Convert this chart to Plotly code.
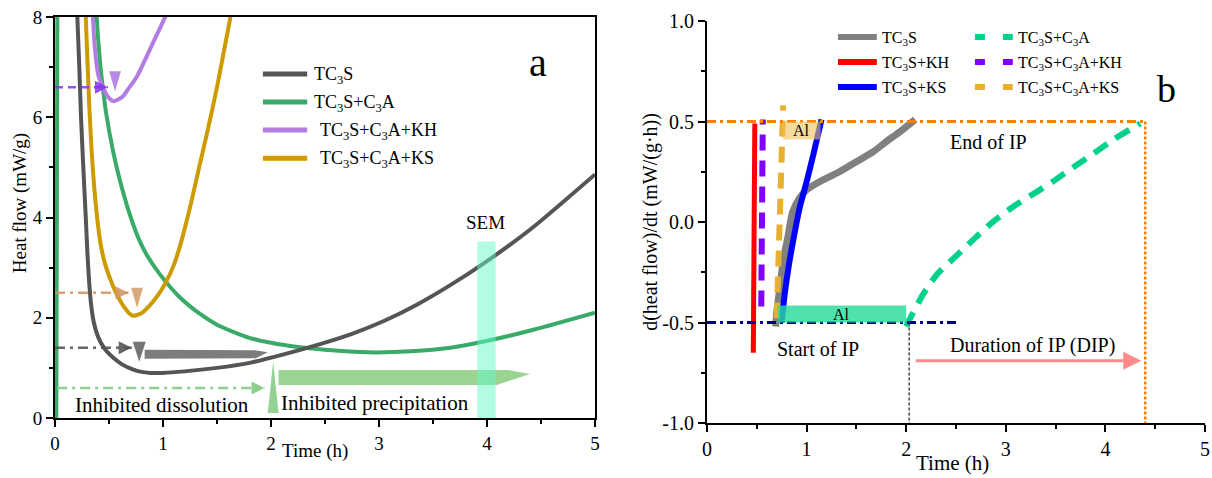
import plotly.graph_objects as go

FONT = "Liberation Serif"

# ---------------- panel a: heat flow (mW/g) vs time (h) ----------------
tc3s_t = [0.200, 0.207, 0.225, 0.241, 0.262, 0.285, 0.300, 0.315, 0.335, 0.360, 0.390,
          0.420, 0.470, 0.540, 0.620, 0.720, 0.800, 0.880, 1.00, 1.20, 1.50, 1.80, 2.10,
          2.43, 2.75, 3.04, 3.35, 3.66, 3.96, 4.40, 5.00]
tc3s_v = [8.6, 8.0, 7.0, 6.0, 5.0, 4.0, 3.3, 2.75, 2.25, 1.90, 1.67,
          1.52, 1.35, 1.20, 1.07, 0.97, 0.92, 0.90, 0.90, 0.93, 1.00, 1.10, 1.26,
          1.46, 1.68, 1.93, 2.26, 2.65, 3.07, 3.76, 4.86]

c3a_spike_t = [0.012, 0.022]
c3a_spike_v = [0.0, 8.5]
c3a_t = [0.375, 0.386, 0.417, 0.448, 0.472, 0.540, 0.600, 0.694, 0.770, 0.850, 0.970,
         1.15, 1.34, 1.50, 1.65, 1.80, 2.00, 2.27, 2.50, 2.90, 3.30, 3.66, 3.96,
         4.43, 5.00]
c3a_v = [8.6, 8.0, 7.1, 6.5, 6.1, 5.3, 4.75, 4.05, 3.60, 3.25, 2.87,
         2.42, 2.08, 1.86, 1.72, 1.60, 1.50, 1.41, 1.36, 1.31, 1.33, 1.40, 1.52,
         1.76, 2.10]

kh_t = [0.345, 0.352, 0.370, 0.400, 0.460, 0.500, 0.540, 0.580, 0.630, 0.690, 0.760,
        0.880, 0.950, 1.020, 1.030]
kh_v = [8.6, 8.0, 7.36, 6.85, 6.52, 6.38, 6.32, 6.35, 6.42, 6.60, 6.82,
        7.36, 7.68, 8.0, 8.05]

ks_t = [0.280, 0.285, 0.300, 0.318, 0.340, 0.365, 0.390, 0.420, 0.460, 0.510, 0.560,
        0.620, 0.670, 0.720, 0.800, 0.880, 0.960, 1.030, 1.100, 1.160, 1.250, 1.340,
        1.420, 1.500, 1.580, 1.620, 1.640]
ks_v = [8.3, 8.0, 7.15, 6.2, 5.3, 4.55, 4.0, 3.5, 3.1, 2.78, 2.52,
        2.28, 2.13, 2.04, 2.09, 2.25, 2.47, 2.72, 3.05, 3.45, 4.2, 5.05,
        5.8, 6.6, 7.5, 7.95, 8.2]

names_a = ["TC<sub>3</sub>S", "TC<sub>3</sub>S+C<sub>3</sub>A",
           "TC<sub>3</sub>S+C<sub>3</sub>A+KH", "TC<sub>3</sub>S+C<sub>3</sub>A+KS"]
colors_a = ["#555555", "rgb(58,170,104)", "rgb(178,124,226)", "rgb(205,154,0)"]

# ---------------- panel b: d(heat flow)/dt vs time (h) ----------------
b_tc3s_t = [0.69, 0.70, 0.73, 0.77, 0.81, 0.86, 0.93, 1.00, 1.13, 1.33, 1.50, 1.67, 1.80, 1.94, 2.09]
b_tc3s_v = [-0.52, -0.45, -0.33, -0.18, -0.08, 0.05, 0.12, 0.16, 0.20, 0.25, 0.30, 0.35, 0.40, 0.45, 0.51]
b_kh_t = [0.465, 0.470, 0.475, 0.480]
b_kh_v = [-0.65, -0.30, 0.10, 0.49]
b_ks_t = [0.75, 0.78, 0.82, 0.87, 0.93, 1.00, 1.07, 1.15]
b_ks_v = [-0.50, -0.36, -0.22, -0.08, 0.07, 0.20, 0.34, 0.51]
b_c3a_t = [2.00, 2.06, 2.17, 2.31, 2.50, 2.69, 2.87, 3.07, 3.31, 3.47, 3.67, 3.88, 4.08, 4.28, 4.35]
b_c3a_v = [-0.52, -0.46, -0.36, -0.26, -0.17, -0.08, 0.00, 0.075, 0.15, 0.20, 0.27, 0.34, 0.41, 0.47, 0.49]
b_c3a_kh_t = [0.545, 0.552, 0.560]
b_c3a_kh_v = [-0.42, 0.05, 0.51]
b_c3a_ks_t = [0.700, 0.730, 0.765]
b_c3a_ks_v = [-0.48, 0.05, 0.58]

names_b_solid = ["TC<sub>3</sub>S", "TC<sub>3</sub>S+KH", "TC<sub>3</sub>S+KS"]
names_b_dash = ["TC<sub>3</sub>S+C<sub>3</sub>A", "TC<sub>3</sub>S+C<sub>3</sub>A+KH",
                "TC<sub>3</sub>S+C<sub>3</sub>A+KS"]
colors_b_solid = ["#808080", "#ff0000", "#0000ff"]
colors_b_dash = ["rgb(0,210,140)", "rgb(130,0,255)", "rgb(232,176,48)"]

# key levels / times of panel b
ip_start, ip_end = -0.5, 0.5
t_start_c3a, t_end_c3a = 2.03, 4.40
dip_level = -0.69

fig = go.Figure()


def curve(t, v, color, width, xa="x", ya="y", dash=None, shape="spline"):
    fig.add_trace(go.Scatter(
        x=t, y=v, mode="lines", xaxis=xa, yaxis=ya, showlegend=False, hoverinfo="skip",
        line=dict(color=color, width=width, dash=dash, shape=shape, smoothing=0.7)))


# panel a curves
curve(c3a_spike_t, c3a_spike_v, colors_a[1], 4, shape="linear")
curve(c3a_t, c3a_v, colors_a[1], 4)
curve(tc3s_t, tc3s_v, colors_a[0], 4)
curve(ks_t, ks_v, colors_a[3], 4)
curve(kh_t, kh_v, colors_a[2], 4)

# panel b curves
DASH = "16px,10px"
curve(b_tc3s_t, b_tc3s_v, colors_b_solid[0], 7, "x2", "y2")
curve(b_kh_t, b_kh_v, colors_b_solid[1], 5, "x2", "y2", shape="linear")
curve(b_ks_t, b_ks_v, colors_b_solid[2], 6, "x2", "y2")
curve(b_c3a_t, b_c3a_v, colors_b_dash[0], 6, "x2", "y2", dash=DASH)
curve(b_c3a_kh_t, b_c3a_kh_v, colors_b_dash[1], 6, "x2", "y2", dash=DASH, shape="linear")
curve(b_c3a_ks_t, b_c3a_ks_v, colors_b_dash[2], 6, "x2", "y2", dash=DASH, shape="linear")

shapes = []
annotations = []


def tri(x, y_top, y_bot, half, color, xr="x", yr="y"):
    """Narrow pointer triangle with its apex at y_bot."""
    shapes.append(dict(type="path", xref=xr, yref=yr, line=dict(width=0), fillcolor=color,
                       path=f"M{x - half},{y_top} L{x + half},{y_top} L{x},{y_bot} Z"))


def guide(x0, x1, y, color, dash, width=2.5, xr="x", yr="y"):
    shapes.append(dict(type="line", xref=xr, yref=yr, x0=x0, x1=x1, y0=y, y1=y,
                       line=dict(color=color, width=width, dash=dash)))
    annotations.append(dict(x=x1, y=y, ax=x1 - 0.1, ay=y, xref=xr, yref=yr,
                            axref=xr, ayref=yr, text="", showarrow=True,
                            arrowhead=2, arrowsize=1.3, arrowwidth=2, arrowcolor=color))


def text(x, y, s, size, xr="x", yr="y", xanchor="center", **kw):
    annotations.append(dict(x=x, y=y, xref=xr, yref=yr, text=s, showarrow=False,
                            xanchor=xanchor, yanchor="middle",
                            font=dict(family=FONT, size=size, color="black"), **kw))


# ---- panel a annotations
guide(0.0, 0.49, 6.6, "rgba(135,50,240,0.85)", "8px,5px")
tri(0.556, 6.92, 6.52, 0.055, "rgba(178,124,226,0.9)")
guide(0.0, 0.68, 2.5, "rgba(212,150,100,0.9)", "10px,5px,3px,5px")
tri(0.76, 2.6, 2.2, 0.055, "rgba(212,160,110,0.9)")
guide(0.0, 0.71, 1.4, "rgba(85,85,85,0.9)", "10px,5px,3px,5px")
tri(0.78, 1.52, 1.12, 0.06, "rgba(110,110,110,0.95)")
guide(0.02, 1.94, 0.6, "rgba(135,205,135,0.95)", "10px,5px,3px,5px")
shapes.append(dict(type="path", xref="x", yref="y", line=dict(width=0), fillcolor="rgba(135,205,135,0.9)",
                   path="M1.97,0.1 L2.07,0.1 L2.02,1.12 Z"))
# wide process arrows
shapes.append(dict(type="path", xref="x", yref="y", line=dict(width=0), fillcolor="rgba(118,118,118,0.95)",
                   path="M0.83,1.36 L1.85,1.35 L1.97,1.31 L1.86,1.19 L0.83,1.18 Z"))
shapes.append(dict(type="path", xref="x", yref="y", line=dict(width=0), fillcolor="rgba(130,200,120,0.8)",
                   path="M2.07,0.96 L4.19,0.96 L4.40,0.88 L4.09,0.66 L2.07,0.66 Z"))
# SEM sampling window
shapes.append(dict(type="rect", xref="x", yref="y", x0=3.91, x1=4.08, y0=-0.1, y1=3.52,
                   line=dict(width=0), fillcolor="rgba(100,250,200,0.5)", layer="above"))

text(0.99, 0.26, "Inhibited dissolution", 21)
text(2.96, 0.30, "Inhibited precipitation", 21)
text(3.99, 3.90, "SEM", 19)
text(4.47, 7.10, "a", 40)

# panel a key
rows_a = [0.858, 0.788, 0.718, 0.648]
for i, (nm, col) in enumerate(zip(names_a, colors_a)):
    shapes.append(dict(type="line", xref="x domain", yref="y domain", x0=0.385, x1=0.467,
                       y0=rows_a[i], y1=rows_a[i], line=dict(color=col, width=5)))
    text(0.476 + (0.011 if i >= 2 else 0), rows_a[i] - 0.004, nm, 18,
         xr="x domain", yr="y domain", xanchor="left")

# ---- panel b annotations
shapes.append(dict(type="line", xref="x2", yref="y2", x0=0, x1=t_end_c3a, y0=ip_end, y1=ip_end,
                   line=dict(color="#ff8000", width=3, dash="9px,4px,3px,4px")))
shapes.append(dict(type="line", xref="x2", yref="y2", x0=t_end_c3a, x1=t_end_c3a, y0=ip_end, y1=-1.0,
                   line=dict(color="#ff8000", width=2.5, dash="3px,2px")))
shapes.append(dict(type="line", xref="x2", yref="y2", x0=0, x1=2.5, y0=ip_start, y1=ip_start,
                   line=dict(color="#000080", width=3, dash="9px,4px,3px,4px")))
shapes.append(dict(type="line", xref="x2", yref="y2", x0=t_start_c3a, x1=t_start_c3a, y0=ip_start, y1=-1.0,
                   line=dict(color="#444444", width=1.5, dash="3px,2px")))
shapes.append(dict(type="rect", xref="x2", yref="y2", x0=0.76, x1=1.14, y0=0.41, y1=0.5,
                   line=dict(width=0), fillcolor="rgba(238,195,90,0.6)", layer="above"))
shapes.append(dict(type="rect", xref="x2", yref="y2", x0=0.71, x1=2.0, y0=ip_start, y1=-0.415,
                   line=dict(width=0), fillcolor="rgba(40,220,155,0.82)", layer="above"))
annotations.append(dict(x=4.36, y=dip_level, ax=2.08, ay=dip_level, xref="x2", yref="y2",
                        axref="x2", ayref="y2", text="", showarrow=True, arrowhead=2,
                        arrowsize=1.2, arrowwidth=3, arrowcolor="rgba(255,100,100,0.75)"))
text(0.95, 0.455, "Al", 16, "x2", "y2")
text(1.355, -0.458, "Al", 16, "x2", "y2")
text(2.83, 0.396, "End of IP", 20, "x2", "y2")
text(1.114, -0.634, "Start of IP", 20, "x2", "y2")
text(3.27, -0.614, "Duration of IP (DIP)", 20, "x2", "y2")
text(4.61, 0.66, "b", 38, "x2", "y2")

# panel b key: solid column then dashed column
rows_b = [0.960, 0.898, 0.836]
for i in range(3):
    shapes.append(dict(type="line", xref="x2 domain", yref="y2 domain", x0=0.263, x1=0.341,
                       y0=rows_b[i], y1=rows_b[i], line=dict(color=colors_b_solid[i], width=6)))
    text(0.347, rows_b[i] - 0.004, names_b_solid[i], 16, "x2 domain", "y2 domain", xanchor="left")
    shapes.append(dict(type="line", xref="x2 domain", yref="y2 domain", x0=0.538, x1=0.614,
                       y0=rows_b[i], y1=rows_b[i],
                       line=dict(color=colors_b_dash[i], width=6, dash="10px,18px")))
    text(0.620, rows_b[i] - 0.004, names_b_dash[i], 16, "x2 domain", "y2 domain", xanchor="left")

# axis titles
text(0.0165, 0.575, "Heat flow (mW/g)", 19, "paper", "paper", textangle=-90)
text(0.260, 0.056, "Time (h)", 19, "paper", "paper")
text(0.537, 0.5356, "d(heat flow)/dt (mW/(g·h))", 20, "paper", "paper", textangle=-90)
text(0.7855, 0.031, "Time (h)", 21, "paper", "paper")

ax_common = dict(showline=True, linecolor="black", linewidth=2, ticks="outside", ticklen=7,
                 tickwidth=2, tickcolor="black", showgrid=False, zeroline=False,
                 automargin=False, tickfont=dict(family=FONT, size=19, color="black"))
minor = lambda d: dict(dtick=d, ticks="outside", ticklen=4, tickwidth=2, tickcolor="black")
tick_b = dict(family=FONT, size=20, color="black")

fig.update_layout(
    width=1212, height=478, margin=dict(l=0, r=0, t=0, b=0),
    paper_bgcolor="white", plot_bgcolor="white", showlegend=False,
    xaxis=dict(domain=[55 / 1212, 595 / 1212], range=[0, 5], dtick=1, minor=minor(0.5),
               mirror=True, anchor="y", **ax_common),
    yaxis=dict(domain=[1 - 418 / 478, 1 - 17 / 478], range=[0, 8], tickvals=[0, 2, 4, 6, 8],
               minor=minor(1), mirror=True, anchor="x", **ax_common),
    xaxis2=dict(domain=[707 / 1212, 1205 / 1212], range=[0, 5], dtick=1, minor=minor(0.5),
                anchor="y2", **{**ax_common, "tickfont": tick_b}),
    yaxis2=dict(domain=[1 - 423 / 478, 1 - 21 / 478], range=[-1, 1],
                tickvals=[-1, -0.5, 0, 0.5, 1], ticktext=["-1.0", "-0.5", "0.0", "0.5", "1.0"],
                minor=minor(0.25), anchor="x2", **{**ax_common, "tickfont": tick_b}),
    shapes=shapes, annotations=annotations,
)

fig.write_html("out.html")
